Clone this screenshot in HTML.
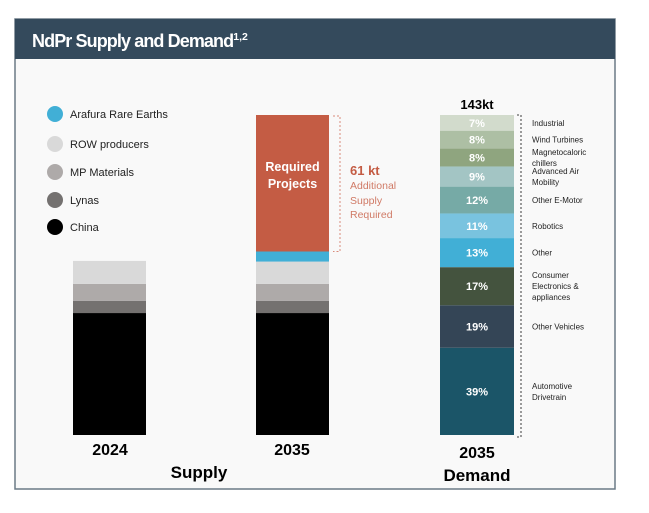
<!DOCTYPE html>
<html><head><meta charset="utf-8">
<style>
html,body{margin:0;padding:0;background:#fff;}
svg{display:block;font-family:"Liberation Sans",sans-serif;}
</style></head>
<body>
<svg id="chart" width="649" height="513" viewBox="0 0 649 513">
  <rect x="15" y="19" width="600" height="470" fill="#f9f9f9" stroke="#6b7a86" stroke-width="1.5"/>
  <rect x="15" y="19" width="600" height="40" fill="#344a5c"/>
  <text x="32" y="47" fill="#fff" font-size="18" font-weight="bold" letter-spacing="-0.9">NdPr Supply and Demand<tspan font-size="10.5" dy="-7" letter-spacing="0">1,2</tspan></text>
  <g id="legend"></g>
  <g id="bars"></g>
  <text x="110" y="455" text-anchor="middle" font-size="16" font-weight="bold">2024</text>
  <text x="292" y="455" text-anchor="middle" font-size="16" font-weight="bold">2035</text>
  <text x="199" y="478" text-anchor="middle" font-size="17" font-weight="bold">Supply</text>
  <text x="477" y="458" text-anchor="middle" font-size="16" font-weight="bold">2035</text>
  <text x="477" y="481" text-anchor="middle" font-size="17" font-weight="bold">Demand</text>
  <text x="477" y="109" text-anchor="middle" font-size="13" font-weight="bold">143kt</text>
  <text x="350" y="175" font-size="13" font-weight="bold" fill="#c45c44">61 kt</text>
  <text font-size="10.5" fill="#d07a66"><tspan x="350" y="189">Additional</tspan><tspan x="350" y="204">Supply</tspan><tspan x="350" y="218">Required</tspan></text>
</svg>
<script>
const supplyNames = ["China","Lynas","MP Materials","ROW producers","Arafura Rare Earths"];
const supplyColors = ["#000000","#747170","#aeaaa9","#d9d9d9","#41afd6"];
const supply2024 = [54.5,5.4,7.6,10.3,0];
const supply2035 = [54.5,5.4,7.6,10.0,4.5];
const requiredGap = 61;
const demandNames = ["Automotive Drivetrain","Other Vehicles","Consumer Electronics & appliances","Other","Robotics","Other E-Motor","Advanced Air Mobility","Magnetocaloric chillers","Wind Turbines","Industrial"];
const demandValues = [39,19,17,13,11,12,9,8,8,7];
const demandColors = ["#1b5568","#344556","#44533e","#41afd6","#79c3df","#76aaa6","#a3c5c4","#8fa57f","#adbfa4","#d2dbcc"];
const demandLabelLines = [["Automotive","Drivetrain"],["Other Vehicles"],["Consumer","Electronics &","appliances"],["Other"],["Robotics"],["Other E-Motor"],["Advanced Air","Mobility"],["Magnetocaloric","chillers"],["Wind Turbines"],["Industrial"]];

const NS="http://www.w3.org/2000/svg";
const baseY=435, scale=320/143;
const yH = v => v*scale;
const bars=document.getElementById('bars');
const legend=document.getElementById('legend');
function mk(tag,attrs,parent){const e=document.createElementNS(NS,tag);for(const k in attrs)e.setAttribute(k,attrs[k]);parent.appendChild(e);return e;}

const legendY=[114,144,172,200,227];
for(let i=0;i<supplyNames.length;i++){
  const idx=supplyNames.length-1-i;
  const cy=legendY[i];
  const c=mk('circle',{cx:55,cy:cy,r:8,fill:supplyColors[idx]},legend);
  
  
  const t=mk('text',{x:70,y:cy+4,'font-size':11,fill:'#222'},legend);
  t.textContent=supplyNames[idx];
  
  
}

function stack(x,w,vals){
  let y=baseY;
  vals.forEach((v,i)=>{
    if(v<=0)return;
    const h=yH(v);y-=h;
    const r=mk('rect',{x:x,y:y,width:w,height:h,fill:supplyColors[i]},bars);
    
    
  });
  return y;
}
stack(73,73,supply2024);
let top35=stack(256,73,supply2035);
const rh=yH(requiredGap);
const rr=mk('rect',{x:256,y:top35-rh,width:73,height:rh,fill:'#c45c44'},bars);


const rt=mk('text',{'font-size':12.5,'font-weight':'bold',fill:'#fff','text-anchor':'middle'},bars);
rt.innerHTML='<tspan x="292.5" y="'+(top35-rh+56)+'">Required</tspan><tspan x="292.5" y="'+(top35-rh+73)+'">Projects</tspan>';


const br=mk('path',{d:`M333 ${top35-rh+1} H340 V${top35} H333`,fill:'none',stroke:'#d98a7a','stroke-width':1,'stroke-dasharray':'2,2'},bars);



let y=baseY;
demandValues.forEach((v,i)=>{
  const h=yH(v);y-=h;
  const r=mk('rect',{x:440,y:y,width:74,height:h,fill:demandColors[i]},bars);
  
  
  const t=mk('text',{x:477,y:y+h/2+4,'font-size':11,'font-weight':'bold',fill:'#fff','text-anchor':'middle'},bars);
  t.textContent=v+'%';
  
  
  const lines=demandLabelLines[i];
  const lt=mk('text',{'font-size':8,fill:'#222'},bars);
  const cy=y+h/2, lh=11;
  lines.forEach((s,j)=>{
    const ts=mk('tspan',{x:532,y:cy+3+(j-(lines.length-1)/2)*lh},lt);
    ts.textContent=s;
  });
  
  
});
const dl=mk('path',{d:`M517 ${y} H521 V${baseY+2} H517`,fill:'none',stroke:'#666','stroke-width':1.3,'stroke-dasharray':'2,2'},bars);


</script>
</body></html>
